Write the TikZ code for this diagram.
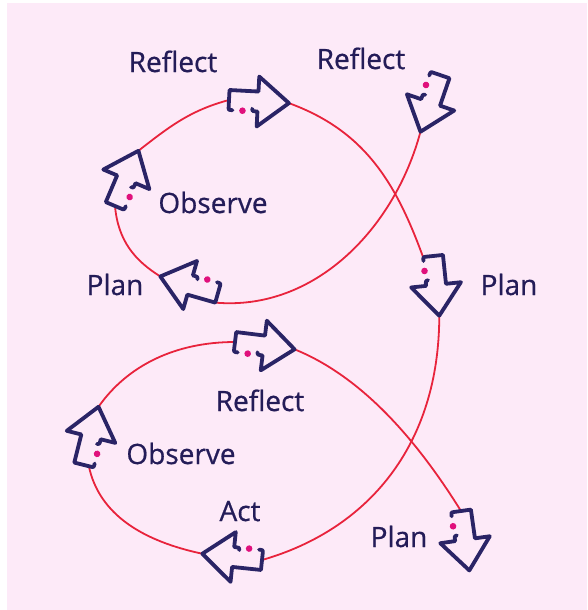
\documentclass[tikz,border=0pt]{standalone}
\usepackage{fontspec}
\setmainfont{Open Sans}
\newfontfamily\lblfont{Open Sans}[FakeBold=0.7]
\usetikzlibrary{calc}
\pgfdeclarelayer{bg}
\pgfsetlayers{bg,main}
\definecolor{bgpink}{RGB}{253,234,248}
\definecolor{navy}{RGB}{42,36,102}
\definecolor{txtnavy}{RGB}{36,28,88}
\definecolor{loopred}{RGB}{232,35,60}
\definecolor{dotmag}{RGB}{224,16,124}
\tikzset{
  arrowline/.style={draw=navy, line width=3.8pt, line join=round, line cap=round},
  loopline/.style={draw=loopred, line width=1.8pt},
  lbl/.style={anchor=base, inner sep=0pt, text=txtnavy, font=\lblfont\fontsize{28}{30}\selectfont},
  loopArrow/.pic={
    \draw[arrowline] (23.5,7.5) .. controls (24,10) .. (27,10) -- (29,10) -- (29,25) -- (60,0) -- (29,-25) -- (29,-10) -- (0,-10) -- (0,6.5) .. controls (0,10) .. (4,10);
    \fill[dotmag] (14,10) circle (3.3);
    \coordinate (-tail) at (0,0);
    \coordinate (-tip) at (60,0);
    \coordinate (-tl) at (0,-10);
    \coordinate (-tr) at (0,10);
  }
}
\begin{document}
\begin{tikzpicture}[x=1pt,y=-1pt]
\useasboundingbox (0,0) rectangle (587,610);
\begin{pgfonlayer}{bg}
\fill[bgpink] (7,3) rectangle (587,610);
\end{pgfonlayer}
% arrows
\pic[rotate=-3] (A) at (229,100) {loopArrow};
\pic[rotate=-109] (B) at (440,75) {loopArrow};
\pic[rotate=67] (C) at (115,206) {loopArrow};
\pic[rotate=164] (D) at (218,293) {loopArrow};
\pic[rotate=-84] (E) at (433,256) {loopArrow};
\pic[rotate=-7] (F) at (235,342) {loopArrow};
\pic[rotate=76] (G) at (84,465) {loopArrow};
\pic[rotate=-186] (H) at (262,560) {loopArrow};
\pic[rotate=-82] (I) at (461,511) {loopArrow};
% loop line
\begin{pgfonlayer}{bg}
\draw[loopline] (B-tip) .. controls +(105:100) and +(5:100) .. (D-tl);
\draw[loopline] (D-tip) .. controls +(-148:30) and +(85:35) .. (C-tail);
\draw[loopline] (C-tip) .. controls +(-38:40) and +(165:40) .. (A-tail);
\draw[loopline] (A-tip) .. controls +(20:80) and +(-110:80) .. (E-tr);
\draw[loopline] (E-tip) .. controls +(90:130) and +(-16:110) .. (H-tail);
\draw[loopline] (H-tip) .. controls +(192:60) and +(78:50) .. ($(G-tail)!0.5!(G-tr)$);
\draw[loopline] (G-tip) .. controls +(-55:50) and +(180:60) .. (F-tail);
\draw[loopline] (F-tip) .. controls +(22:80) and +(238:70) .. (I-tail);
\end{pgfonlayer}
% labels
\node[lbl] (r1) at (173,72) {Reflect};
\node[lbl] (r2) at (361,69) {Reflect};
\node[lbl] (o1) at (213,213) {Observe};
\node[lbl] (p1) at (115,295) {Plan};
\node[lbl] (p2) at (509,295) {Plan};
\node[lbl] (r3) at (260,411) {Reflect};
\node[lbl] (o2) at (181,464) {Observe};
\node[lbl] (a1) at (240,521) {Act};
\node[lbl] (p3) at (399,547) {Plan};
\end{tikzpicture}
\end{document}
